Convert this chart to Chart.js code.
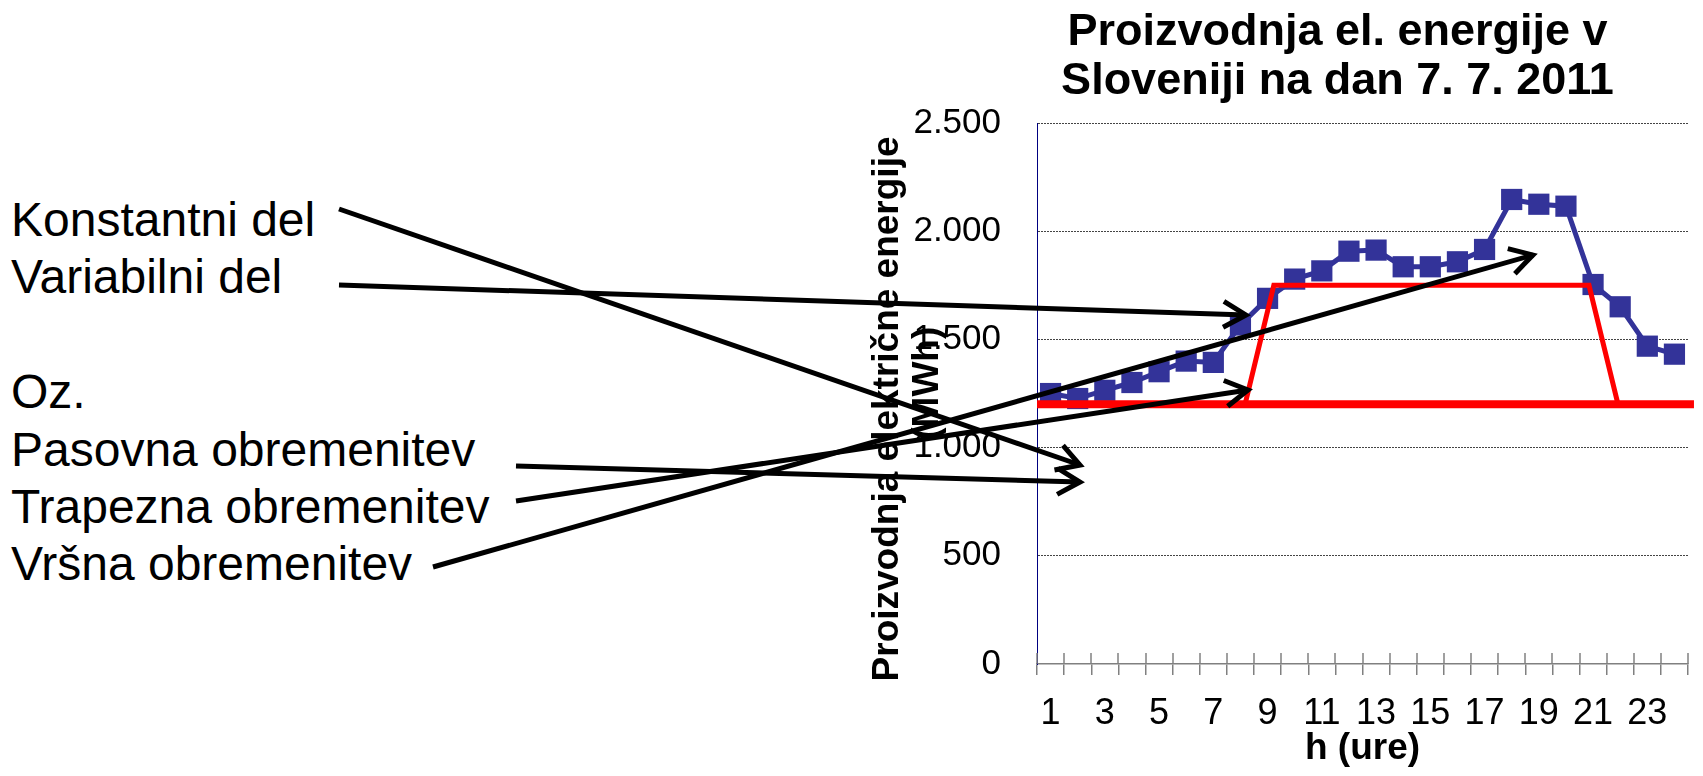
<!DOCTYPE html>
<html>
<head>
<meta charset="utf-8">
<script src="https://cdn.jsdelivr.net/npm/chart.js@4.4.1/dist/chart.umd.min.js"></script>
<style>
  html, body { margin: 0; padding: 0; background: #fff; }
  body { width: 1703px; height: 776px; position: relative; overflow: hidden; font-family: 'Liberation Sans', Arial, sans-serif; }
  #notes { position: absolute; left: 11px; top: 191px; font-size: 48px; line-height: 57.4px; color: #000; white-space: pre; }
  #chart { position: absolute; left: 0; top: 0; }
  #arrows { position: absolute; left: 0; top: 0; pointer-events: none; }
</style>
</head>
<body>
<div id="notes">Konstantni del
Variabilni del

Oz.
Pasovna obremenitev
Trapezna obremenitev
Vršna obremenitev</div>
<canvas id="chart" width="1703" height="776"></canvas>
<svg id="arrows" width="1703" height="776"></svg>
<script>
// urne vrednosti proizvodnje (MWh)
const hours = ['1', '2', '3', '4', '5', '6', '7', '8', '9', '10', '11', '12',
               '13', '14', '15', '16', '17', '18', '19', '20', '21', '22', '23', '24'];
const production = [1250, 1227, 1265, 1301, 1351, 1400, 1394, 1567, 1690, 1779, 1817, 1908,
                    1913, 1836, 1836, 1859, 1916, 2147, 2125, 2116, 1754, 1651, 1469, 1432];

// pasovna in trapezna obremenitev (ure, MWh)
const baseHours = [0.5, 24.72];
const baseLoad = [1200, 1200];
const trapHours = [8.17, 9.23, 20.85, 21.92];
const trapLoad = [1200, 1750, 1750, 1200];

// puscice: od besedila do grafa
const arrows = [
    [339, 209, 1080, 465],
    [339, 285, 1246, 315],
    [516, 466, 1080, 482],
    [516, 501, 1248, 390],
    [433, 567, 1533, 255]
];

const FONT = "'Liberation Sans', Arial, sans-serif";

const toPoints = (xs, ys) => xs.map((x, i) => ({ x: x, y: ys[i] }));
const thousands = v => String(v).replace(/\B(?=(\d{3})+(?!\d))/g, '.');

// male crtice nad osjo x (oznake sekajo os)
const crossTicks = {
    id: 'crossTicks',
    afterDraw(chart) {
        const sx = chart.scales.x;
        const ctx = chart.ctx;
        const step = sx.getPixelForValue(1) - sx.getPixelForValue(0);
        const first = sx.getPixelForValue(0) - step / 2;
        ctx.save();
        ctx.strokeStyle = '#808080';
        ctx.lineWidth = 1.5;
        for (let i = 0; i <= hours.length; i++) {
            const px = Math.round(first + i * step);
            ctx.beginPath();
            ctx.moveTo(px, sx.top - 11);
            ctx.lineTo(px, sx.top);
            ctx.stroke();
        }
        ctx.restore();
    }
};

new Chart(document.getElementById('chart').getContext('2d'), {
    type: 'line',
    data: {
        labels: hours,
        datasets: [
            {
                label: 'Trapezna',
                data: toPoints(trapHours, trapLoad),
                xAxisID: 'x2',
                borderColor: '#ff0000',
                borderWidth: 5,
                pointRadius: 0,
                tension: 0,
                clip: false
            },
            {
                label: 'Pasovna',
                data: toPoints(baseHours, baseLoad),
                xAxisID: 'x2',
                borderColor: '#ff0000',
                borderWidth: 8,
                pointRadius: 0,
                tension: 0,
                clip: false
            },
            {
                label: 'Proizvodnja',
                data: production,
                xAxisID: 'x',
                borderColor: '#333399',
                backgroundColor: '#333399',
                borderWidth: 5,
                pointStyle: 'rect',
                pointRadius: 15,
                pointBorderWidth: 0,
                pointBackgroundColor: '#333399',
                tension: 0
            }
        ]
    },
    options: {
        responsive: false,
        animation: false,
        devicePixelRatio: 1,
        layout: { padding: { left: 868, right: 6.5, top: 0, bottom: 0 } },
        plugins: {
            legend: { display: false },
            tooltip: { enabled: false },
            title: {
                display: true,
                fullSize: false,
                // presledki na koncu premaknejo naslov nekoliko v levo
                text: ['Proizvodnja el. energije v    ', 'Sloveniji na dan 7. 7. 2011    '],
                color: '#000',
                font: { family: FONT, size: 45, weight: 'bold', lineHeight: 1.09 },
                padding: { top: 8, bottom: 17 }
            }
        },
        scales: {
            x: {
                type: 'category',
                offset: true,
                afterFit: s => { s.height = 112; },
                grid: { offset: true, drawOnChartArea: false, drawTicks: true, tickLength: 11, color: '#808080', lineWidth: 1.5 },
                border: { display: true, color: '#808080', width: 1.5 },
                ticks: {
                    autoSkip: false,
                    maxRotation: 0,
                    padding: 17,
                    color: '#000',
                    font: { family: FONT, size: 36, lineHeight: 1.2 },
                    callback: (v, i) => (i % 2 === 0 ? hours[i] : '')
                },
                title: {
                    display: true,
                    text: 'h (ure)',
                    color: '#000',
                    font: { family: FONT, size: 37, weight: 'bold', lineHeight: 1.2 },
                    padding: { top: 0, bottom: 5 }
                }
            },
            x2: {
                type: 'linear',
                display: false,
                min: 0.5,
                max: 24.5
            },
            y: {
                min: 0,
                max: 2500,
                afterFit: s => { s.width = 169; },
                grid: {
                    drawTicks: false,
                    color: ctx => (ctx.tick && ctx.tick.value === 0 ? 'rgba(0,0,0,0)' : '#444'),
                    lineWidth: 1
                },
                border: { display: true, color: '#000080', width: 1, dash: [2, 1] },
                ticks: {
                    stepSize: 500,
                    padding: 36,
                    color: '#000',
                    font: { family: FONT, size: 35 },
                    callback: v => thousands(v)
                },
                title: {
                    display: true,
                    text: ['Proizvodnja električne energije   ', '  (MWh)'],
                    color: '#000',
                    font: { family: FONT, size: 37, weight: 'bold', lineHeight: 1.08 },
                    padding: { top: 0, bottom: 0 }
                }
            }
        }
    },
    plugins: [crossTicks]
});

// puscice nad grafom
const svgNS = 'http://www.w3.org/2000/svg';
const svg = document.getElementById('arrows');
arrows.forEach(([x1, y1, x2, y2]) => {
    const ang = Math.atan2(y2 - y1, x2 - x1);
    const len = 26, spread = Math.PI / 6;
    const w1 = [x2 - len * Math.cos(ang - spread), y2 - len * Math.sin(ang - spread)];
    const w2 = [x2 - len * Math.cos(ang + spread), y2 - len * Math.sin(ang + spread)];
    const line = document.createElementNS(svgNS, 'line');
    line.setAttribute('x1', x1); line.setAttribute('y1', y1);
    line.setAttribute('x2', x2); line.setAttribute('y2', y2);
    line.setAttribute('stroke', '#000'); line.setAttribute('stroke-width', 5);
    svg.appendChild(line);
    const head = document.createElementNS(svgNS, 'polyline');
    head.setAttribute('points', `${w1[0]},${w1[1]} ${x2},${y2} ${w2[0]},${w2[1]}`);
    head.setAttribute('fill', 'none');
    head.setAttribute('stroke', '#000');
    head.setAttribute('stroke-width', 5);
    head.setAttribute('stroke-linejoin', 'miter');
    svg.appendChild(head);
});
</script>
</body>
</html>
